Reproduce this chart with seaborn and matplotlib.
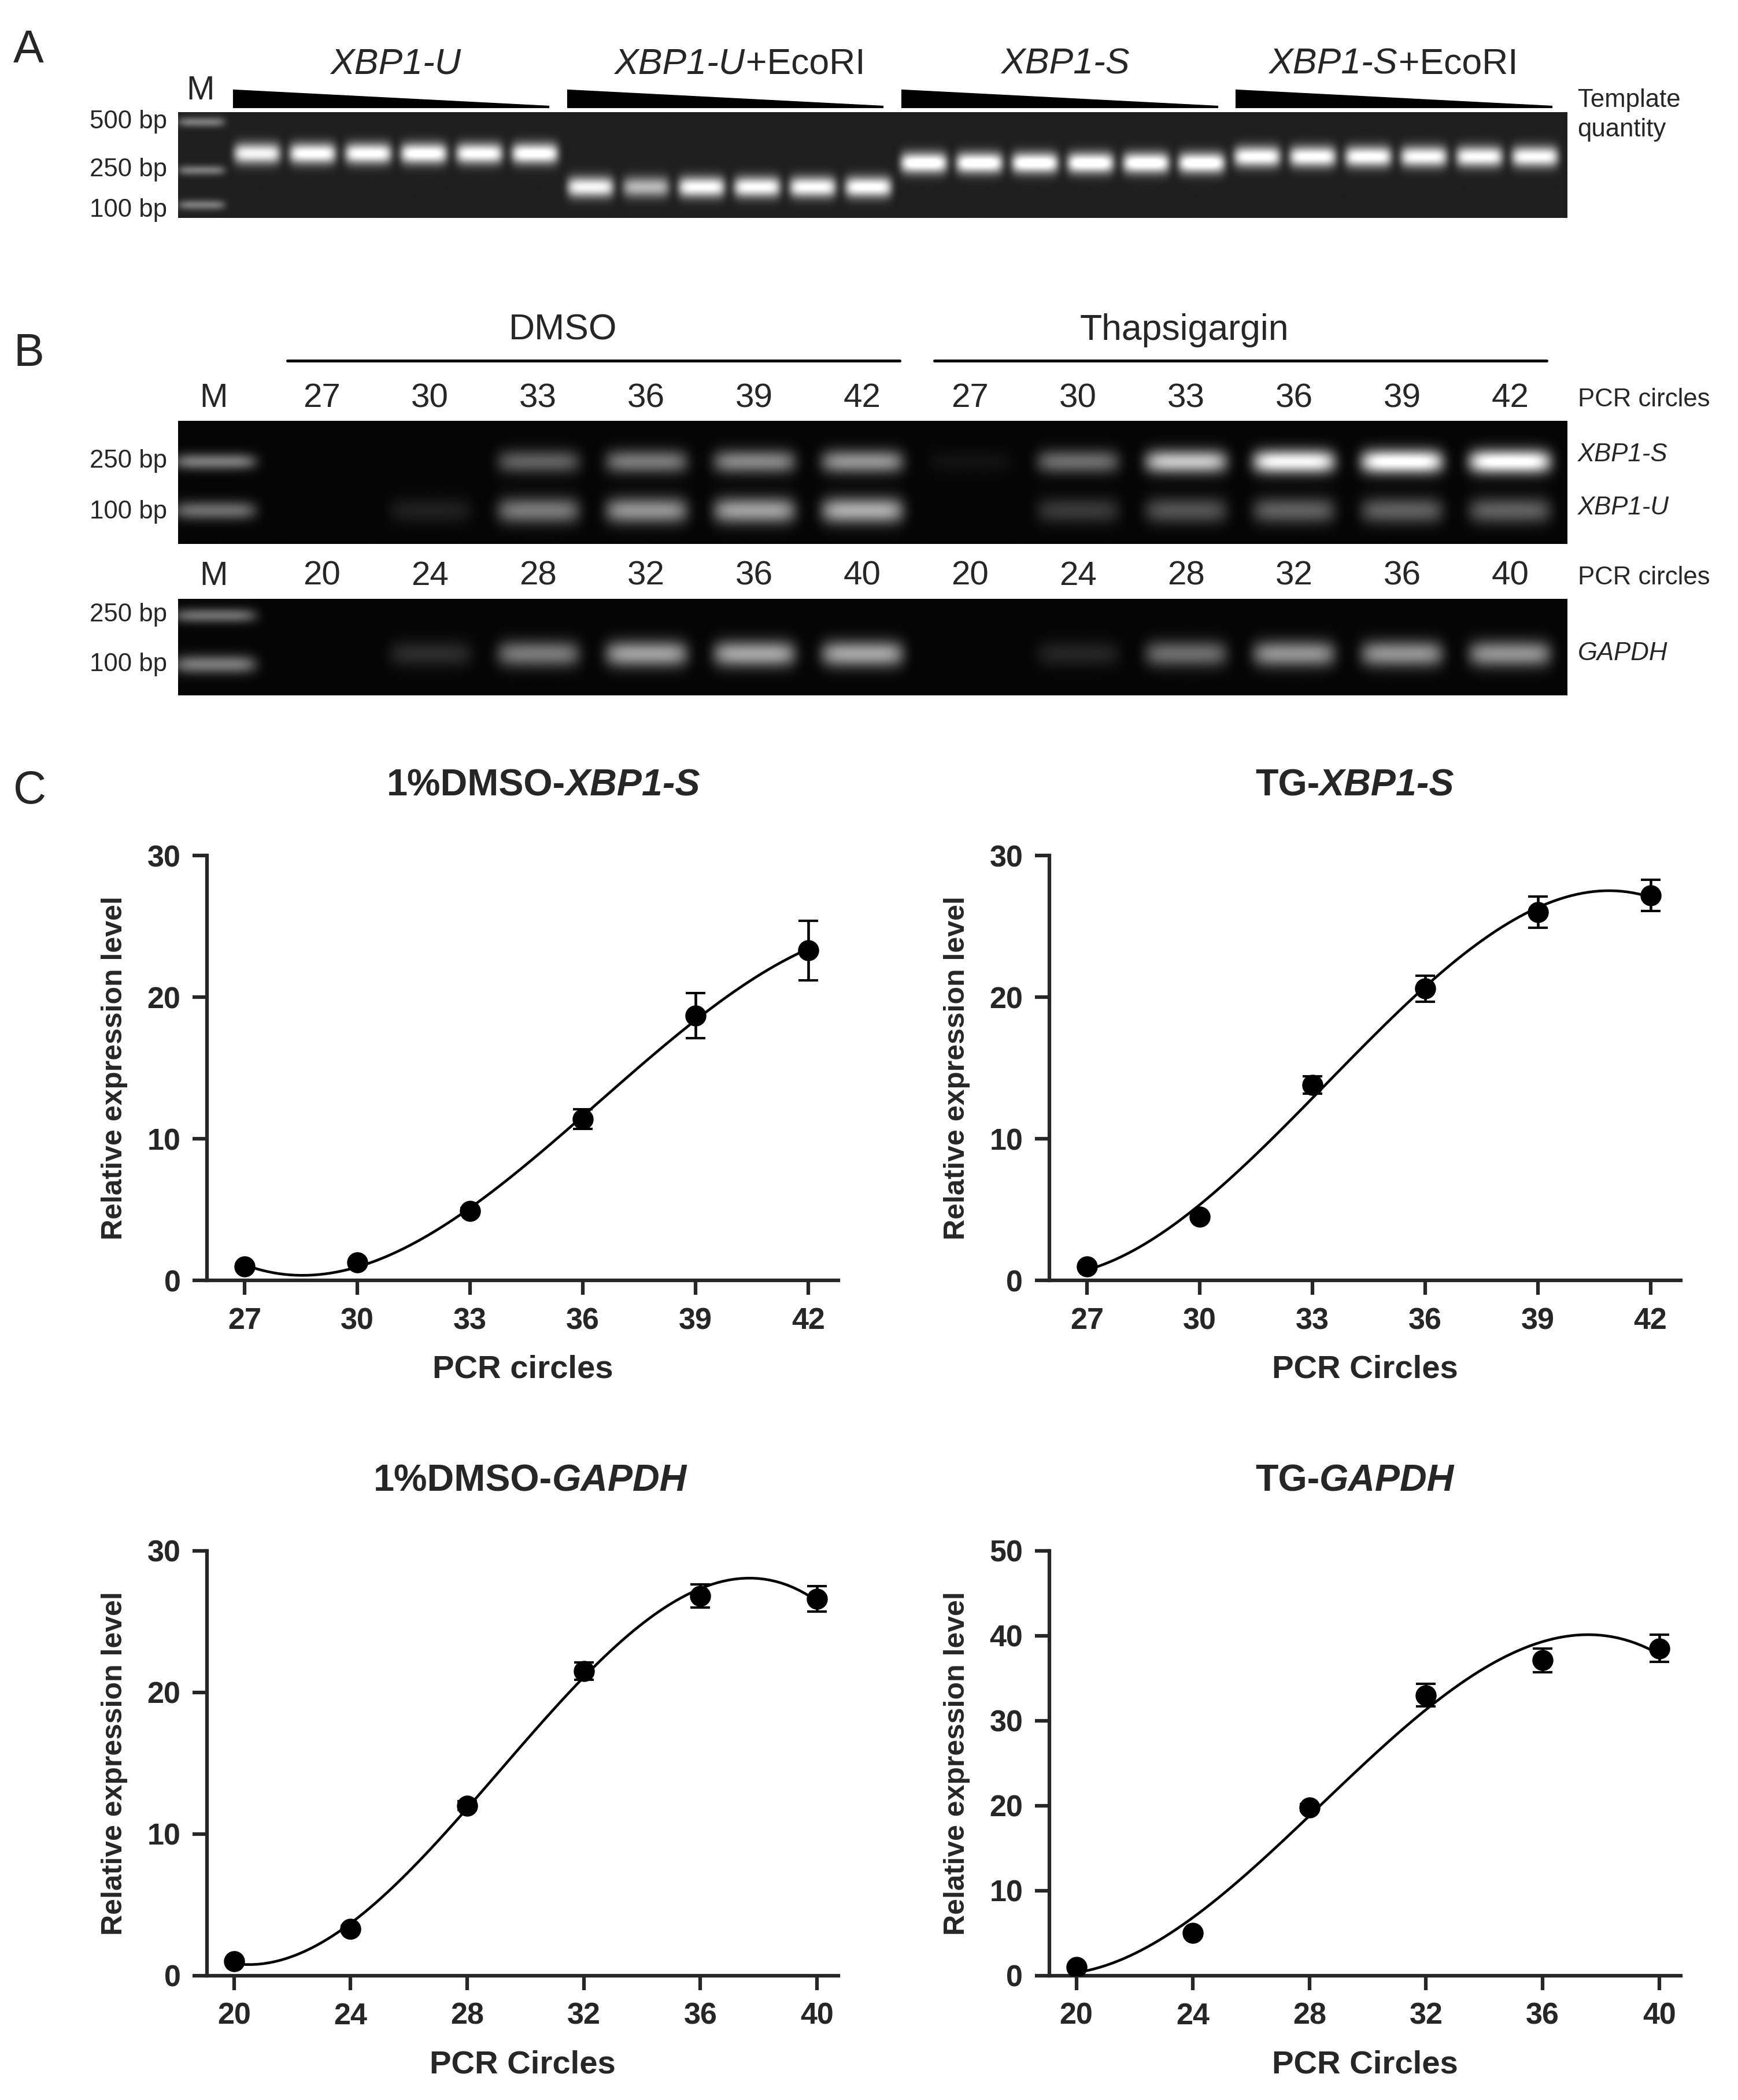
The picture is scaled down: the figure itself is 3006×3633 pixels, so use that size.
import numpy as np
import pandas as pd
import seaborn as sns
import matplotlib.pyplot as plt
from matplotlib.patches import Polygon

sns.set_style("ticks")
plt.rcParams['font.family'] = ['Liberation Sans', 'DejaVu Sans']

# ---- data ----
# panel A band heights (fraction from gel top) and intensity per lane
a_groups = ['XBP1-U', 'XBP1-U+EcoRI', 'XBP1-S', 'XBP1-S+EcoRI']
a_band_pos = [0.39, 0.71, 0.48, 0.42]
a_intensity = [[0.85, 0.9, 0.9, 0.92, 0.9, 0.92],
               [0.85, 0.6, 0.88, 0.88, 0.88, 0.9],
               [0.95, 0.95, 0.95, 0.95, 0.95, 0.95],
               [0.9, 0.9, 0.9, 0.88, 0.88, 0.88]]
a_marker_pos = [0.09, 0.55, 0.88]

# panel B
b_cycles_xbp = [27, 30, 33, 36, 39, 42]
b_cycles_gapdh = [20, 24, 28, 32, 36, 40]
xbp_s_int = [0, 0, 0.35, 0.45, 0.5, 0.55, 0.05, 0.4, 0.75, 0.95, 1.0, 1.0]
xbp_u_int = [0, 0.1, 0.45, 0.55, 0.6, 0.65, 0.0, 0.2, 0.3, 0.35, 0.35, 0.35]
gapdh_int = [0, 0.15, 0.45, 0.6, 0.62, 0.62, 0.0, 0.12, 0.4, 0.55, 0.55, 0.55]

# panel C
x_xbp = [27, 30, 33, 36, 39, 42]
dmso_xbp = [1.0, 1.3, 4.9, 11.4, 18.7, 23.3]
dmso_xbp_err = [0.1, 0.1, 0.2, 0.7, 1.6, 2.1]
tg_xbp = [1.0, 4.5, 13.8, 20.6, 26.0, 27.2]
tg_xbp_err = [0.1, 0.2, 0.6, 0.9, 1.1, 1.1]
x_gapdh = [20, 24, 28, 32, 36, 40]
dmso_gapdh = [1.0, 3.3, 12.0, 21.5, 26.8, 26.6]
dmso_gapdh_err = [0.1, 0.2, 0.3, 0.6, 0.8, 0.9]
tg_gapdh = [1.0, 5.0, 19.8, 33.0, 37.1, 38.5]
tg_gapdh_err = [0.1, 0.2, 0.4, 1.3, 1.4, 1.6]

W, H = 1300, 1571
fig = plt.figure(figsize=(10.02, 12.11), dpi=300)


def fig_axes(x0, y0, x1, y1):
    return fig.add_axes([x0 / W, 1 - y1 / H, (x1 - x0) / W, (y1 - y0) / H])


def gel(ax, lanes, xlim, bg=0.12, half=0.38):
    # lanes: list of (lane_index, y_frac, intensity, ywidth)
    nx, ny = 800, 120
    xs = np.linspace(xlim[0], xlim[1], nx)
    ys = np.linspace(0, 1, ny)
    X, Y = np.meshgrid(xs, ys)
    img = np.full_like(X, bg)
    for li, yf, inten, yw in lanes:
        img += inten * np.exp(-((X - li) / half) ** 6) * np.exp(-((Y - yf) / yw) ** 2)
    ax.imshow(np.clip(img, 0, 1), cmap='gray', vmin=0, vmax=1, aspect='auto',
              extent=[xlim[0], xlim[1], 1, 0], interpolation='bilinear')
    ax.set_axis_off()


# overlay for text
ov = fig.add_axes([0, 0, 1, 1], zorder=5)
ov.set_xlim(0, W)
ov.set_ylim(H, 0)
ov.set_axis_off()

# ---- Panel A ----
axA = fig_axes(133, 84, 1172, 163)
lanes = []
for m in a_marker_pos:
    lanes.append((0, m, 0.35, 0.05))
for g in range(4):
    for k in range(6):
        lanes.append((1 + g * 6 + k, a_band_pos[g], a_intensity[g][k], 0.1))
gel(axA, lanes, ((133 - 150) / 41.6, (1172 - 150) / 41.6), half=0.42)

ov.text(10, 38, 'A', fontsize=19, va='center')
ov.text(150, 68, 'M', fontsize=14, ha='center', va='center')
for lab, y in zip(['500 bp', '250 bp', '100 bp'], [91, 127, 157]):
    ov.text(125, y, lab, fontsize=10.5, ha='right', va='center')
ov.text(1180, 86, 'Template\nquantity', fontsize=10.5, ha='left', va='center', linespacing=1.3)
ov.text(296, 48, 'XBP1-U', fontsize=15, style='italic', ha='center', va='center')
ov.text(797, 48, 'XBP1-S', fontsize=15, style='italic', ha='center', va='center')
for split in [557, 1045]:
    it = 'XBP1-U' if split < 700 else 'XBP1-S'
    ov.text(split, 48, it, fontsize=15, style='italic', ha='right', va='center')
    ov.text(split + 1, 48, '+EcoRI', fontsize=15, ha='left', va='center')
for g in range(4):
    x0 = 175 + g * 250
    ov.add_patch(Polygon([[x0, 68], [x0, 80], [x0 + 236, 80]], closed=True, color='black'))

# ---- Panel B ----
sp = 80.8
xlimB = ((133 - 160) / sp, (1172 - 160) / sp)
axB1 = fig_axes(133, 315, 1172, 407)
lanes = [(0, 0.33, 0.45, 0.07), (0, 0.73, 0.4, 0.08)]
for i in range(12):
    lanes.append((i + 1, 0.33, xbp_s_int[i], 0.1))
    lanes.append((i + 1, 0.73, xbp_u_int[i], 0.11))
gel(axB1, lanes, xlimB, bg=0.02)
axB2 = fig_axes(133, 448, 1172, 520)
lanes = [(0, 0.17, 0.4, 0.08), (0, 0.68, 0.45, 0.1)]
for i in range(12):
    lanes.append((i + 1, 0.57, gapdh_int[i], 0.14))
gel(axB2, lanes, xlimB, bg=0.02)

ov.text(10, 265, 'B', fontsize=19, va='center')
ov.text(421, 247, 'DMSO', fontsize=15, ha='center', va='center')
ov.text(886, 247, 'Thapsigargin', fontsize=15, ha='center', va='center')
ov.plot([215, 673], [270, 270], color='black', lw=1.2)
ov.plot([699, 1157], [270, 270], color='black', lw=1.2)
for cycles, y in [(b_cycles_xbp, 298), (b_cycles_gapdh, 431)]:
    ov.text(160, y, 'M', fontsize=14, ha='center', va='center')
    for i, c in enumerate(cycles * 2):
        ov.text(160 + sp * (i + 1), y, str(c), fontsize=14, ha='center', va='center')
    ov.text(1180, y + 1, 'PCR circles', fontsize=10.5, ha='left', va='center')
for lab, y in [('250 bp', 345), ('100 bp', 383), ('250 bp', 460), ('100 bp', 497)]:
    ov.text(125, y, lab, fontsize=10.5, ha='right', va='center')
for lab, y in [('XBP1-S', 340), ('XBP1-U', 380), ('GAPDH', 489)]:
    ov.text(1180, y, lab, fontsize=10.5, style='italic', ha='left', va='center')

# ---- Panel C ----
ov.text(10, 592, 'C', fontsize=19, va='center')
plots = [
    (155, 640, x_xbp, dmso_xbp, dmso_xbp_err, (26.0, 42.8), 30, 'PCR circles', ('1%DMSO-', 'XBP1-S'), 423),
    (785, 640, x_xbp, tg_xbp, tg_xbp_err, (26.0, 42.8), 30, 'PCR Circles', ('TG-', 'XBP1-S'), 987),
    (155, 1160, x_gapdh, dmso_gapdh, dmso_gapdh_err, (19.08, 40.73), 30, 'PCR Circles', ('1%DMSO-', 'GAPDH'), 413),
    (785, 1160, x_gapdh, tg_gapdh, tg_gapdh_err, (19.08, 40.73), 50, 'PCR Circles', ('TG-', 'GAPDH'), 987),
]
for x0, y0, xv, yv, ev, xl, ymax, xlab, (t1, t2), split in plots:
    ax = fig_axes(x0, y0, x0 + 472, y0 + 318)
    df = pd.DataFrame({'x': xv, 'y': yv})
    sns.regplot(data=df, x='x', y='y', order=3, ci=None, ax=ax, truncate=True,
                scatter_kws=dict(s=60, color='black', alpha=1, zorder=3),
                line_kws=dict(color='black', lw=1.1))
    ax.errorbar(xv, yv, yerr=ev, fmt='none', ecolor='black', capsize=4, lw=1.1)
    ax.set_xlim(*xl)
    ax.set_ylim(0, ymax)
    ax.set_xticks(xv)
    ax.set_yticks(np.arange(0, ymax + 1, 10))
    ax.set_xlabel(xlab, fontsize=13.5, fontweight='bold', labelpad=8)
    ax.set_ylabel('Relative expression level', fontsize=12, fontweight='bold', labelpad=8)
    ax.tick_params(labelsize=12.5, width=1.5, length=6, pad=5)
    for lbl in ax.get_xticklabels() + ax.get_yticklabels():
        lbl.set_fontweight('bold')
    for s in ['left', 'bottom']:
        ax.spines[s].set_linewidth(1.5)
    sns.despine(ax=ax)
    ov.text(split, y0 - 52, t1, fontsize=15.5, fontweight='bold', ha='right', va='center')
    ov.text(split, y0 - 52, t2, fontsize=15.5, fontweight='bold', style='italic', ha='left', va='center')

fig.savefig('out.png', dpi=300, facecolor='white')
